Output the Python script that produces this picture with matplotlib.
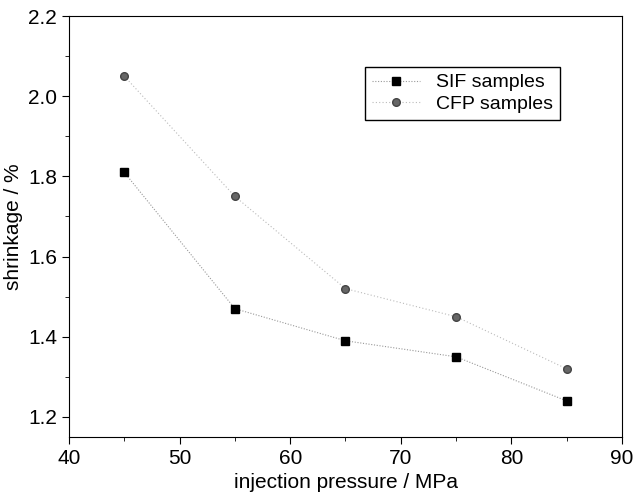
import matplotlib
matplotlib.use("Agg")
import matplotlib.pyplot as plt
from matplotlib.ticker import MultipleLocator

plt.rcParams['font.family'] = ['Liberation Sans', 'DejaVu Sans']

pressure = [45, 55, 65, 75, 85]
sif = [1.81, 1.47, 1.39, 1.35, 1.24]
cfp = [2.05, 1.75, 1.52, 1.45, 1.32]

fig = plt.figure(figsize=(6.42, 5.04), dpi=100)
ax = fig.add_axes([69/642, 1 - 437/504, (622-69)/642, (437-16)/504])

ax.plot(pressure, sif, color='#999999', lw=0.8, ls=(0, (1, 1.5)),
        marker='s', ms=5.5, mfc='black', mec='black', label='SIF samples')
ax.plot(pressure, cfp, color='#bbbbbb', lw=0.8, ls=(0, (1, 2)),
        marker='o', ms=5.5, mfc='#666666', mec='#444444', label='CFP samples')

ax.set_xlim(40, 90)
ax.set_ylim(1.15, 2.2)
ax.xaxis.set_major_locator(MultipleLocator(10))
ax.xaxis.set_minor_locator(MultipleLocator(5))
ax.yaxis.set_major_locator(MultipleLocator(0.2))
ax.yaxis.set_minor_locator(MultipleLocator(0.1))
ax.tick_params(which='both', direction='out', top=False, right=False, labelsize=15)
ax.tick_params(which='major', length=5)
ax.tick_params(which='minor', length=3)
ax.set_xlabel('injection pressure / MPa', fontsize=15)
ax.set_ylabel('shrinkage / %', fontsize=15)

leg = ax.legend(loc='upper left', bbox_to_anchor=(0.535, 0.879), borderaxespad=0,
                fontsize=14, frameon=True, fancybox=False, edgecolor='black',
                framealpha=1, handlelength=2.5, borderpad=0.35, labelspacing=0.2)
leg.get_frame().set_linewidth(1.0)

fig.savefig('out.png', dpi=100)
